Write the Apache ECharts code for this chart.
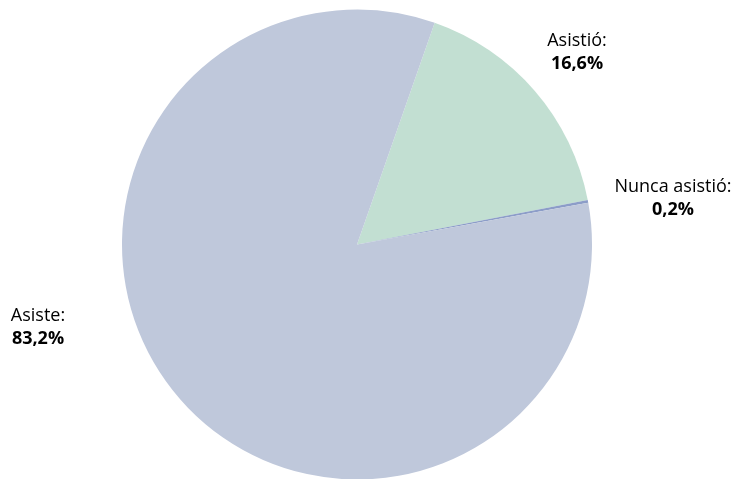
<!DOCTYPE html>
<html>
<head>
<meta charset="utf-8">
<script src="https://cdn.jsdelivr.net/npm/echarts@6/dist/echarts.min.js"></script>
<style>
html,body{margin:0;padding:0;background:#fff;}
#chart{width:736px;height:479px;}
</style>
</head>
<body>
<div id="chart"></div>
<script>
const categories = ['Asistió', 'Nunca asistió', 'Asiste'];
const values = [16.6, 0.2, 83.2];
const valueLabels = ['16,6%', '0,2%', '83,2%'];

const colors = ['#C2DFD2', '#8C9DC8', '#BFC8DB'];
const labelSpots = [[577, 52], [673, 198], [38, 327]];

const chart = echarts.init(document.getElementById('chart'));
chart.setOption({
  animation: false,
  backgroundColor: '#ffffff',
  series: [{
    type: 'pie',
    center: [357, 244.5],
    radius: 235,
    startAngle: 70.7,
    clockwise: true,
    avoidLabelOverlap: false,
    silent: true,
    itemStyle: { borderWidth: 0 },
    label: {
      show: true,
      position: 'outside',
      align: 'center',
      formatter: p => '{n|' + p.name + ':}\n{b|' + valueLabels[p.dataIndex] + '}',
      rich: {
        n: { fontFamily: 'Open Sans', fontSize: 18, color: '#000', lineHeight: 23, align: 'center' },
        b: { fontFamily: 'Open Sans', fontSize: 18, fontWeight: 'bold', color: '#000', lineHeight: 23, align: 'center' }
      }
    },
    labelLine: { show: false },
    labelLayout: function (p) {
      const s = labelSpots[p.dataIndex];
      return { x: s[0], y: s[1], align: 'center', verticalAlign: 'middle' };
    },
    data: categories.map((c, i) => ({ name: c, value: values[i], itemStyle: { color: colors[i] } }))
  }]
});
</script>
</body>
</html>
